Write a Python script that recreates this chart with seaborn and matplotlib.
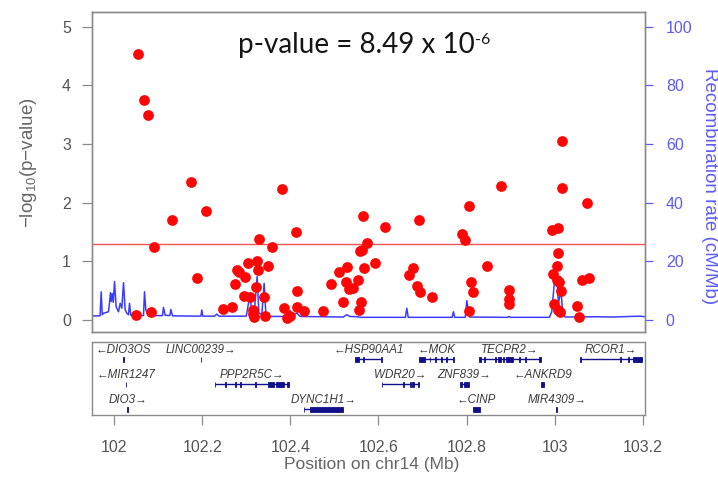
import matplotlib
matplotlib.use("Agg")
import matplotlib.pyplot as plt
import seaborn as sns
import pandas as pd

# ---------------- data ----------------
snp_pos = [102.054, 102.068, 102.077, 102.091, 102.050, 102.083, 102.131, 102.175, 102.208, 102.188,
           102.248, 102.268, 102.278, 102.284, 102.296, 102.303, 102.275, 102.295, 102.309, 102.322,
           102.324, 102.326, 102.328, 102.350, 102.339, 102.358, 102.316, 102.318, 102.315, 102.343,
           102.381, 102.413, 102.386, 102.393, 102.400, 102.416, 102.416, 102.430, 102.475, 102.493,
           102.511, 102.528, 102.520, 102.526, 102.532, 102.543, 102.553, 102.558, 102.562, 102.564,
           102.568, 102.561, 102.556, 102.573, 102.592, 102.614, 102.691, 102.679, 102.670, 102.688,
           102.695, 102.721, 102.806, 102.789, 102.797, 102.810, 102.815, 102.806, 102.846, 102.879,
           102.897, 102.897, 102.897, 103.017, 103.017, 103.074, 102.993, 103.008, 103.007, 103.005,
           102.997, 103.005, 103.009, 103.015, 102.999, 103.007, 103.011, 103.061, 103.077, 103.050,
           103.056]
snp_logp = [4.53, 3.75, 3.50, 1.25, 0.08, 0.14, 1.70, 2.36, 1.86, 0.72,
            0.18, 0.22, 0.86, 0.81, 0.74, 0.97, 0.62, 0.41, 0.40, 0.57,
            1.01, 0.86, 1.38, 0.92, 0.40, 1.25, 0.11, 0.05, 0.17, 0.06,
            2.24, 1.50, 0.20, 0.04, 0.06, 0.49, 0.22, 0.15, 0.16, 0.61,
            0.81, 0.91, 0.30, 0.64, 0.52, 0.54, 0.69, 1.18, 1.19, 1.77,
            0.89, 0.31, 0.17, 1.31, 0.97, 1.58, 1.70, 0.89, 0.77, 0.58,
            0.47, 0.39, 1.95, 1.47, 1.36, 0.65, 0.48, 0.16, 0.92, 2.29,
            0.51, 0.35, 0.27, 3.05, 2.25, 1.99, 1.54, 1.57, 1.14, 0.92,
            0.78, 0.68, 0.65, 0.50, 0.28, 0.17, 0.13, 0.68, 0.72, 0.24,
            0.05]

recomb_pos = [101.946, 101.968, 101.9705, 101.973, 101.9757, 101.987, 101.9893, 101.9915, 101.9935,
              101.9955, 101.998, 102.0008, 102.0045, 102.0098, 102.0136, 102.0174, 102.0212, 102.025,
              102.0288, 102.0326, 102.0348, 102.0378, 102.0666, 102.0689, 102.0719, 102.0779, 102.1097,
              102.1119, 102.1158, 102.1264, 102.1287, 102.1324, 102.1967, 102.199, 102.2013, 102.228,
              102.233, 102.238, 102.300, 102.3049, 102.3087, 102.3125, 102.3178, 102.3245, 102.3285,
              102.3352, 102.3405, 102.3445, 102.352, 102.396, 102.3995, 102.404, 102.4147, 102.422,
              102.520, 102.528, 102.535, 102.551, 102.560, 102.661, 102.6643, 102.6675, 102.767,
              102.7701, 102.773, 102.797, 102.8005, 102.804, 102.807, 102.893, 102.8965, 102.900,
              102.988, 102.9934, 103.001, 103.0048, 103.0084, 103.0145, 103.018, 103.0236, 103.0955,
              103.130, 103.194, 103.210]
recomb_rate = [1.4, 1.4, 9.6, 1.8, 2.3, 2.8, 5.7, 9.3, 6.3,
               9.0, 6.0, 13.1, 4.5, 2.8, 5.7, 4.0, 12.7, 3.4,
               2.3, 1.8, 5.7, 1.6, 1.5, 9.6, 3.4, 1.5, 1.5,
               4.3, 1.6, 1.5, 3.6, 1.4, 1.3, 3.4, 1.3, 1.3,
               2.0, 1.3, 1.3, 5.7, 8.0, 2.5, 2.0, 14.8, 2.3,
               2.0, 12.5, 1.7, 1.2, 1.2, 3.2, 1.6, 2.3, 1.2,
               1.0, 1.8, 1.2, 1.1, 0.9, 0.9, 4.0, 0.9, 0.9,
               2.8, 0.9, 0.9, 6.6, 3.4, 1.0, 0.9, 1.2, 0.9,
               0.9, 2.8, 15.9, 14.8, 5.7, 10.2, 2.3, 1.0, 1.1,
               1.0, 1.3, 1.0]

sig_threshold = 1.30
x_ticks = [102.0, 102.2, 102.4, 102.6, 102.8, 103.0, 103.2]
x_tick_labels = ["102", "102.2", "102.4", "102.6", "102.8", "103", "103.2"]
left_ticks = [0, 1, 2, 3, 4, 5]
right_ticks = [0, 20, 40, 60, 80, 100]

gene_names = ["DIO3OS", "LINC00239", "HSP90AA1", "MOK", "TECPR2", "RCOR1",
              "MIR1247", "PPP2R5C", "WDR20", "ZNF839", "ANKRD9",
              "DIO3", "DYNC1H1", "CINP", "MIR4309"]
gene_start = [102.019, 102.196, 102.547, 102.691, 102.828, 103.058,
              102.026, 102.228, 102.607, 102.785, 102.970,
              102.030, 102.431, 102.815, 103.004]
gene_end = [102.023, 102.198, 102.608, 102.772, 102.969, 103.198,
            102.027, 102.396, 102.692, 102.806, 102.975,
            102.032, 102.520, 102.831, 103.005]
gene_strand = ["-", "+", "-", "-", "+", "+",
               "-", "+", "+", "+", "-",
               "+", "+", "-", "+"]
gene_row = [1, 1, 1, 1, 1, 1,
            2, 2, 2, 2, 2,
            3, 3, 3, 3]
gene_exons = [
    [(102.019, 102.023)],
    [(102.196, 102.198)],
    [(102.547, 102.555), (102.565, 102.567), (102.606, 102.608)],
    [(102.691, 102.706), (102.716, 102.718), (102.728, 102.730), (102.743, 102.745),
     (102.754, 102.756), (102.769, 102.772)],
    [(102.829, 102.832), (102.839, 102.841), (102.864, 102.866), (102.872, 102.877),
     (102.883, 102.886), (102.890, 102.906), (102.920, 102.922), (102.932, 102.934),
     (102.965, 102.969)],
    [(103.058, 103.059), (103.148, 103.150), (103.166, 103.169), (103.178, 103.198)],
    [(102.026, 102.027)],
    [(102.228, 102.230), (102.251, 102.253), (102.274, 102.276), (102.285, 102.287),
     (102.319, 102.321), (102.349, 102.362), (102.368, 102.385), (102.392, 102.396)],
    [(102.607, 102.609), (102.656, 102.658), (102.671, 102.673), (102.677, 102.681),
     (102.689, 102.692)],
    [(102.785, 102.790), (102.794, 102.806)],
    [(102.970, 102.975)],
    [(102.030, 102.032)],
    [(102.431, 102.432), (102.445, 102.520)],
    [(102.815, 102.831)],
    [(103.004, 103.005)],
]

# ---------------- style ----------------
sns.set_theme(style="white")
plt.rcParams['font.family'] = ['Liberation Sans', 'DejaVu Sans']
plt.rcParams['mathtext.fontset'] = 'custom'
plt.rcParams['mathtext.rm'] = 'Liberation Sans'
plt.rcParams['mathtext.default'] = 'regular'

GRAY_TXT = '#555555'
GRAY_LINE = '#8a8a8a'
BLUE_TXT = '#5c5cf2'
BLUE_LINE = '#3c3cff'
NAVY = '#10108a'

W, H = 718, 482
fig = plt.figure(figsize=(W / 100, H / 100), dpi=100)
L, R = 91.7, 645.0
ax = fig.add_axes([L / W, 1 - 331.7 / H, (R - L) / W, 320 / H])
ax2 = ax.twinx()
gax = fig.add_axes([L / W, 1 - 415 / H, (R - L) / W, 73.3 / H])

xlim = (101.949, 103.205)

# recombination rate line (right axis)
rec_df = pd.DataFrame({"pos": recomb_pos, "rate": recomb_rate})
sns.lineplot(data=rec_df, x="pos", y="rate", ax=ax2, color=BLUE_LINE, lw=1.1,
             sort=False, estimator=None)

# association points (left axis)
snp_df = pd.DataFrame({"pos": snp_pos, "logp": snp_logp})
ax.axhline(sig_threshold, color='#f05555', lw=1.0, zorder=1)
sns.scatterplot(data=snp_df, x="pos", y="logp", ax=ax, color='#ff0505', s=60,
                linewidth=0, zorder=3)

ax.set_zorder(ax2.get_zorder() + 1)
ax.patch.set_visible(False)

ax.set_xlim(*xlim)
ax2.set_xlim(*xlim)
ax.set_ylim(-0.2, 5.256)
ax2.set_ylim(-4.0, 105.12)
ax.set_xticks([])
ax.set_xlabel("")
ax2.set_xlabel("")

ax.set_yticks(left_ticks)
ax.set_yticklabels([str(t) for t in left_ticks])
ax.tick_params(axis='y', left=True, direction='out', length=7, width=0.9,
               color=GRAY_LINE, labelcolor=GRAY_TXT, labelsize=11.5, pad=8)
ax2.set_yticks(right_ticks)
ax2.set_yticklabels([str(t) for t in right_ticks])
ax2.tick_params(axis='y', right=True, direction='out', length=6, width=0.9,
                color=BLUE_TXT, labelcolor=BLUE_TXT, labelsize=11.5, pad=9)

for a in (ax, ax2, gax):
    for sp in a.spines.values():
        sp.set_color(GRAY_LINE)
        sp.set_linewidth(1.0)

ax.set_ylabel("\u2212log$_{10}$(p\u2212value)", color='#666666', fontsize=13.5)
ax.yaxis.set_label_coords(-0.114, 0.527)
ax.yaxis.label.set_va('center')
ax2.set_ylabel("Recombination rate (cM/Mb)", color=BLUE_TXT, fontsize=13.5,
               rotation=270)
ax2.yaxis.set_label_coords(1.1157, 0.455)
ax2.yaxis.label.set_va('center')

# title annotation
t = fig.text(238 / W, 1 - 53 / H, "p-value = 8.49 x 10", fontsize=20,
             family=['Lato', 'DejaVu Sans'], color='#151515', va='baseline', ha='left')
fig.canvas.draw()
ax.annotate("-6", xy=(1.0, 1.0), xycoords=t, xytext=(0.5, -1), textcoords='offset points',
            fontsize=11.5, family=['Lato', 'DejaVu Sans'], color='#151515',
            ha='left', va='top')

# ---------------- gene track ----------------
gax.set_xlim(*xlim)
gax.set_ylim(3.24, 0.29)
gax.set_yticks([])
for name, s, e, strand, row, exons in zip(gene_names, gene_start, gene_end,
                                          gene_strand, gene_row, gene_exons):
    gax.hlines(row, s, e, color=NAVY, lw=1.0)
    for (es, ee) in exons:
        gax.fill_between([es, ee], row - 0.10, row + 0.10, color=NAVY, lw=0.6,
                         edgecolor=NAVY)
    label = ("\u2190" + name) if strand == "-" else (name + "\u2192")
    gax.text((s + e) / 2, row - 0.37, label, ha='center', va='center',
             style='italic', fontsize=8.4, color='#3a3a3a')

gax.set_xticks(x_ticks)
gax.set_xticklabels(x_tick_labels)
gax.tick_params(axis='x', bottom=True, direction='out', length=7, width=0.9,
                color=GRAY_LINE, labelcolor=GRAY_TXT, labelsize=11.5, pad=11)
gax.set_xlabel("Position on chr14 (Mb)", color='#666666', fontsize=12.5)
gax.xaxis.set_label_coords(0.506, -0.682)
gax.xaxis.label.set_va('center')

fig.savefig("out.png", dpi=100)
